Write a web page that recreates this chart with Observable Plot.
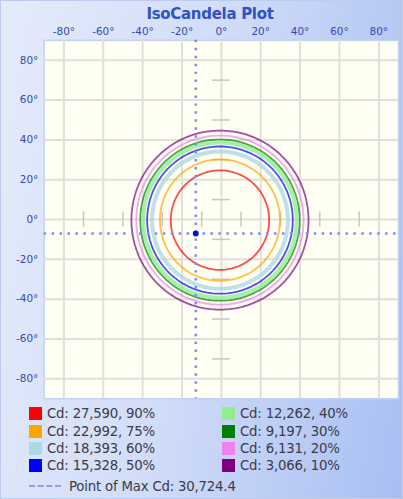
<!DOCTYPE html>
<html><head><meta charset="utf-8">
<script src="https://cdn.jsdelivr.net/npm/d3@7"></script>
<script src="https://cdn.jsdelivr.net/npm/@observablehq/plot@0.6"></script>
<style>
html,body{margin:0;padding:0;}
body{width:403px;height:499px;overflow:hidden;font-family:"DejaVu Sans",sans-serif;}
#wrap{position:relative;width:403px;height:499px;box-sizing:border-box;border:1px solid #bccbef;
  background:linear-gradient(100deg,#e4ebfb 0%,#d2ddf8 45%,#a8bff3 100%);}
#title{position:absolute;left:0;top:4px;width:418px;text-align:center;font-weight:bold;font-size:15px;color:#2f52c4;letter-spacing:-0.3px;}
#chart{position:absolute;left:-1px;top:21px;}
#legend{position:absolute;left:28px;top:404px;width:380px;font-size:13.3px;color:#3b3b4a;letter-spacing:-0.2px;}
.grid{display:grid;grid-template-columns:193px 160px;grid-template-rows:repeat(4,17.4px);grid-auto-flow:column;}
.item{display:flex;align-items:center;height:17.4px;}
.sw{width:13px;height:13px;margin-right:5px;flex:none;}
.maxrow{display:flex;align-items:center;height:20px;margin-top:1.5px;}
.dash{width:32px;height:0;border-top:2px dashed #939cef;margin-right:8px;}
</style></head>
<body>
<div id="wrap">
  <div id="title">IsoCandela Plot</div>
  <div id="chart"></div>
  <div id="legend"></div>
</div>
<script>
// ---- data ----
const levelPercent = [90, 75, 60, 50, 40, 30, 20, 10];
const levelCd = [27590, 22992, 18393, 15328, 12262, 9197, 6131, 3066];
const levelColors = ["#ff0000", "#ffa500", "#add8e6", "#0000ff", "#90ee90", "#008000", "#ee82ee", "#800080"];
const levelRadius = [25, 30.5, 34.5, 37, 39, 40.5, 42.5, 45]; // degrees
const contourCenter = [-0.7, -0.3];
const axisTicks = [-80, -60, -40, -20, 0, 20, 40, 60, 80];
const minorTicks = [-70, -50, -30, -10, 10, 30, 50, 70];
const maxPoint = {x: -13, y: -7};
const maxCd = 30724.4;

// circle outlines for each iso level
const angles = d3.range(0, 360, 4);
const contours = levelRadius.map((r, i) => angles.map(a => ({
  x: contourCenter[0] + r * Math.cos(a * Math.PI / 180),
  y: contourCenter[1] + r * Math.sin(a * Math.PI / 180),
  level: levelPercent[i]
})));

const deg = d => d + "°";
const contourMarks = [];
for (let i = contours.length - 1; i >= 0; i--) {
  const light = levelColors[i] === "#add8e6" || levelColors[i] === "#90ee90";
  contourMarks.push(Plot.line(contours[i], {
    x: "x", y: "y", curve: "linear-closed",
    stroke: levelColors[i], strokeWidth: light ? 4 : 1.8, strokeOpacity: light ? 0.8 : 0.7
  }));
}

const chart = Plot.plot({
  width: 405, height: 382,
  marginTop: 18, marginLeft: 44, marginRight: 4, marginBottom: 3,
  style: {background: "transparent", fontFamily: "DejaVu Sans, sans-serif", fontSize: "10.5px", color: "#3448ad"},
  x: {domain: [-90, 90], ticks: axisTicks, tickFormat: deg, axis: "top", tickSize: 0, tickPadding: 5, label: null},
  y: {domain: [-90, 90], ticks: axisTicks, tickFormat: deg, tickSize: 0, tickPadding: 6, label: null},
  marks: [
    Plot.frame({fill: "#fffff3", stroke: "#c3d1f1", strokeWidth: 1.5}),
    Plot.gridX(axisTicks, {stroke: "#e0e0da", strokeOpacity: 1, strokeWidth: 2}),
    Plot.gridY(axisTicks, {stroke: "#e0e0da", strokeOpacity: 1, strokeWidth: 2}),
    Plot.ruleX(minorTicks, {y1: -3.8, y2: 3.8, stroke: "#c6c6c4", strokeWidth: 1.5}),
    Plot.ruleY(minorTicks, {x1: -4.5, x2: 4.5, stroke: "#c6c6c4", strokeWidth: 1.5}),
    ...contourMarks,
    Plot.ruleX([maxPoint.x], {stroke: "#7f8cf0", strokeWidth: 2.5, strokeDasharray: "2.5,5.5"}),
    Plot.ruleY([maxPoint.y], {stroke: "#7f8cf0", strokeWidth: 2.5, strokeDasharray: "2.5,5.5"}),
    Plot.dot([maxPoint], {x: "x", y: "y", r: 3, fill: "#0010e0", stroke: "none"})
  ]
});
document.getElementById("chart").appendChild(chart);

// legend
const fmt = d3.format(",");
const legend = document.getElementById("legend");
const grid = document.createElement("div");
grid.className = "grid";
levelPercent.forEach((p, i) => {
  const it = document.createElement("div");
  it.className = "item";
  it.innerHTML = `<span class="sw" style="background:${levelColors[i]}"></span><span>Cd: ${fmt(levelCd[i])}, ${p}%</span>`;
  grid.appendChild(it);
});
legend.appendChild(grid);
const mr = document.createElement("div");
mr.className = "maxrow";
mr.innerHTML = `<span class="dash"></span><span>Point of Max Cd: ${d3.format(",.1f")(maxCd)}</span>`;
legend.appendChild(mr);
</script>
</body></html>
